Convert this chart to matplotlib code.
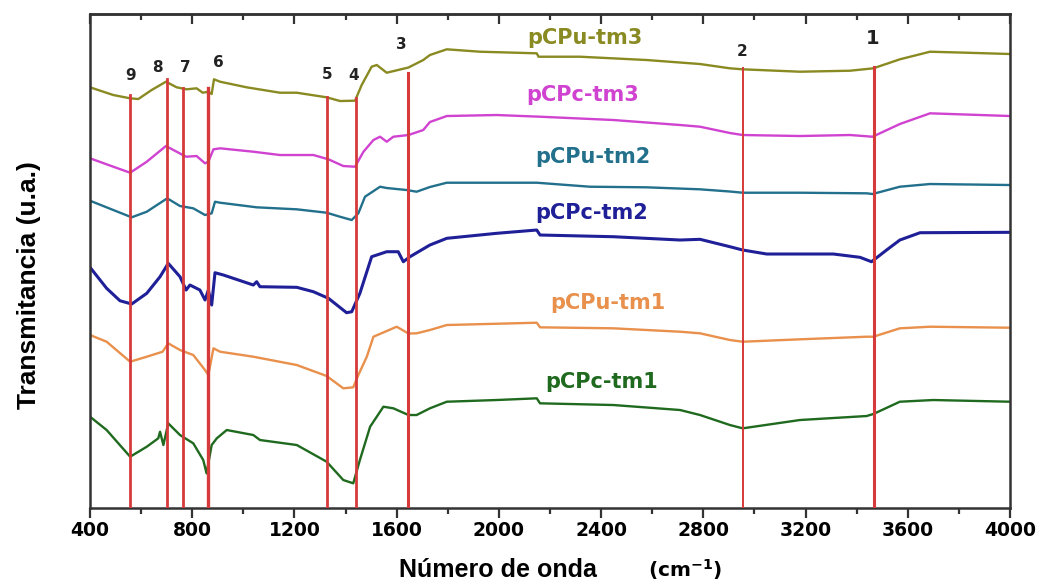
import matplotlib
matplotlib.use("Agg")
import matplotlib.pyplot as plt

# ── FTIR spectra (transmittance in arbitrary units, offset per sample)
WN_PU3 = [400, 491, 557, 589, 641, 697, 739, 778, 817, 841, 863, 876, 885, 909, 1013, 1143,
          1209, 1326, 1378, 1437, 1463, 1502, 1522, 1561, 1646, 1704, 1730, 1796, 1926, 2148,
          2155, 2317, 2578, 2787, 2904, 2954, 3178, 3374, 3465, 3569, 3687, 3830, 4000]
T_PU3 = [420.7, 413, 409.7, 409, 418, 426.3, 420.7, 418.7, 419.7, 415.3, 416.3, 414, 428.7,
         426.3, 420.7, 415.3, 415.3, 410.7, 407, 407.3, 423, 441.3, 443, 435.3, 440.5, 448,
         453, 458.7, 456.3, 454.7, 451.3, 451.3, 448, 444, 439.7, 438.7, 436.3, 437.3, 439.7,
         448.7, 456.3, 455.3, 454]

WN_PC3 = [400, 491, 557, 622, 697, 739, 776, 817, 850, 863, 883, 909, 1039, 1143, 1274, 1333,
          1391, 1437, 1470, 1509, 1535, 1561, 1587, 1646, 1704, 1730, 1796, 1991, 2161, 2448,
          2709, 2787, 2904, 2954, 3178, 3374, 3462, 3569, 3687, 4000]
T_PC3 = [349.7, 341.3, 335.3, 346.3, 362, 356.3, 351.3, 352, 344.7, 346.3, 358.7, 359.7, 356.3,
         353, 353, 348.7, 342, 341.3, 356.3, 368, 371.3, 366.3, 371.3, 373, 378, 386, 392, 393,
         391.3, 388, 383, 381.3, 375, 373, 372, 373, 371.3, 384, 394.7, 392]

WN_PU2 = [400, 491, 563, 622, 702, 752, 804, 850, 876, 889, 909, 1052, 1209, 1326, 1378, 1424,
          1450, 1476, 1535, 1561, 1639, 1678, 1730, 1796, 2148, 2356, 2578, 2787, 2904, 2954,
          3178, 3439, 3462, 3569, 3687, 4000]
T_PU2 = [307.3, 298, 290.7, 296.3, 309.7, 302, 299.7, 293, 294.7, 306.3, 305.3, 300.7, 298.7,
         295.3, 291.3, 288, 294.7, 311.3, 321.3, 320, 318, 316.3, 321, 325.3, 325.3, 321.3,
         320.7, 318.7, 316.5, 315.3, 315.3, 314.7, 314, 321.3, 324, 323]

WN_PC2 = [400, 465, 517, 563, 622, 674, 706, 752, 776, 791, 830, 850, 863, 876, 889, 922, 1039,
          1052, 1065, 1209, 1274, 1333, 1404, 1424, 1456, 1502, 1561, 1606, 1626, 1652, 1730,
          1796, 1991, 2148, 2161, 2448, 2709, 2787, 2904, 2954, 3048, 3309, 3413, 3458, 3517,
          3569, 3648, 4000]
T_PC2 = [240.7, 219.7, 207.3, 204, 214.7, 231.3, 244.7, 231.3, 218, 223, 218, 208, 218, 203,
         235.3, 233, 223, 226.3, 221.3, 220.7, 216.3, 209.7, 195.3, 196.3, 214.7, 251.3, 256.3,
         256.3, 246.3, 251.3, 263, 269.7, 274.7, 278, 273, 271.3, 268, 268.7, 261.3, 258, 254,
         254, 250.7, 246.3, 258, 268, 275.3, 275.7]

WN_PU1 = [400, 465, 557, 622, 684, 706, 752, 804, 850, 863, 883, 909, 1039, 1209, 1326, 1391,
          1430, 1450, 1483, 1509, 1600, 1646, 1678, 1730, 1796, 2148, 2161, 2448, 2709, 2787,
          2904, 2954, 3178, 3439, 3465, 3569, 3687, 4000]
T_PU1 = [173, 166.3, 146.3, 151.3, 156.3, 164.7, 158, 153, 138, 133, 159.7, 156.3, 151.3, 143,
         132, 119.7, 120.7, 133, 151.3, 171.3, 181.3, 174.5, 174.7, 178, 183, 185.3, 180.7,
         179.7, 176.3, 174.7, 168, 166.3, 168.7, 171.3, 171.3, 179.7, 181.3, 180.3]

WN_PC1 = [400, 465, 557, 622, 667, 674, 687, 706, 752, 804, 843, 856, 876, 896, 935, 1039, 1065,
          1209, 1326, 1391, 1430, 1456, 1496, 1548, 1587, 1646, 1678, 1730, 1796, 1991, 2148,
          2161, 2448, 2709, 2787, 2904, 2954, 3178, 3439, 3465, 3569, 3700, 4000]
T_PC1 = [91.3, 78, 51.3, 61.3, 69.7, 76.3, 63, 84.7, 73, 64.7, 48, 34.7, 63, 69.7, 78, 73, 68,
         63, 46.3, 28, 24.7, 48, 81.3, 101.3, 99.7, 93, 93, 99.7, 106.3, 108, 109.7, 104.7,
         103, 98, 93, 83, 79.7, 88, 92, 94, 106.3, 108, 106.3]

SERIES = [
    ("pCPu-tm3", WN_PU3, T_PU3, "#8a8a22", 2337, 470),
    ("pCPc-tm3", WN_PC3, T_PC3, "#d043d0", 2327, 413),
    ("pCPu-tm2", WN_PU2, T_PU2, "#22708c", 2368, 351),
    ("pCPc-tm2", WN_PC2, T_PC2, "#1f1f98", 2364, 295),
    ("pCPu-tm1", WN_PU1, T_PU1, "#e8904c", 2427, 205),
    ("pCPc-tm1", WN_PC1, T_PC1, "#1f6a1f", 2403, 126),
]

# assigned bands: wavenumber, top of marker line, label and label height
BAND_WN = [557, 702, 765, 860, 1328, 1441, 1643, 2954, 3467]
BAND_TOP = [413, 429, 420, 420, 411, 410, 435, 440, 441]
BAND_LBL = ["9", "8", "7", "6", "5", "4", "3", "2", "1"]
BAND_LBL_WN = [557, 662, 771, 901, 1326, 1433, 1617, 2951, 3464]
BAND_LBL_T = [433, 441, 441, 446, 434, 433, 464, 457, 470]
BAND_LBL_FS = [11, 11, 11, 11, 11, 11, 11, 11, 14]
BAND_LW = [2.0, 2.0, 2.0, 2.4, 2.0, 2.0, 2.2, 1.4, 2.2]

XTICKS = [400, 800, 1200, 1600, 2000, 2400, 2800, 3200, 3600, 4000]
XMINOR = [600, 1000, 1400, 1800, 2200, 2600, 3000, 3400, 3800]

SPINE = "#333333"
RED = "#d63a3a"

fig = plt.figure(figsize=(10.42, 5.84), dpi=100)
ax = fig.add_axes([0.0864, 0.1301, 0.8829, 0.8459])

for wn, top, lw in zip(BAND_WN, BAND_TOP, BAND_LW):
    ax.plot([wn, wn], [0, top], color=RED, linewidth=lw, zorder=3)

for name, wn, t, col, lx, ly in SERIES:
    lw = 2.2 if name == "pCPc-tm2" else 1.7
    ax.plot(wn, t, color=col, linewidth=lw, zorder=2)
    ax.text(lx, ly, name, color=col, fontsize=15, fontweight="bold",
            family="DejaVu Sans", ha="center", va="center")

for lbl, x, y, fs in zip(BAND_LBL, BAND_LBL_WN, BAND_LBL_T, BAND_LBL_FS):
    ax.text(x, y, lbl, fontsize=fs, fontweight="bold", color="#222222",
            family="DejaVu Sans", ha="center", va="center")

ax.set_xlim(400, 4000)
ax.set_ylim(0, 494)
ax.set_xticks(XTICKS)
ax.set_xticks(XMINOR, minor=True)
ax.set_yticks([])
ax.tick_params(axis="x", which="major", direction="out", length=7, width=1.6,
               color=SPINE, pad=2, labelsize=13.5)
ax.tick_params(axis="x", which="minor", direction="out", length=4, width=1.6, color=SPINE)
for lab in ax.get_xticklabels():
    lab.set_fontweight("bold")
    lab.set_family("DejaVu Sans")
for spine in ax.spines.values():
    spine.set_linewidth(1.8)
    spine.set_color(SPINE)

# inward ticks along the top frame
top = ax.secondary_xaxis("top")
top.set_xticks(XTICKS)
top.set_xticks(XMINOR, minor=True)
top.tick_params(which="major", direction="in", length=7, width=1.6, color=SPINE,
                labeltop=False)
top.tick_params(which="minor", direction="in", length=4, width=1.6, color=SPINE)
top.spines["top"].set_linewidth(1.8)
top.spines["top"].set_color(SPINE)

fig.text(29 / 1042, 1 - 285 / 584, "Transmitancia (u.a.)", rotation=90, fontsize=19,
         fontweight="bold", family="Liberation Sans", ha="center", va="center")
fig.text(0.4775, 0.0125, "Número de onda", fontsize=18, fontweight="bold",
         family="Liberation Sans", ha="center", va="baseline")
fig.text(0.657, 0.012, r"(cm$^{\mathbf{-1}}$)", fontsize=14.5, fontweight="bold",
         family="DejaVu Sans", ha="center", va="baseline")

fig.savefig("out.png", dpi=100)
